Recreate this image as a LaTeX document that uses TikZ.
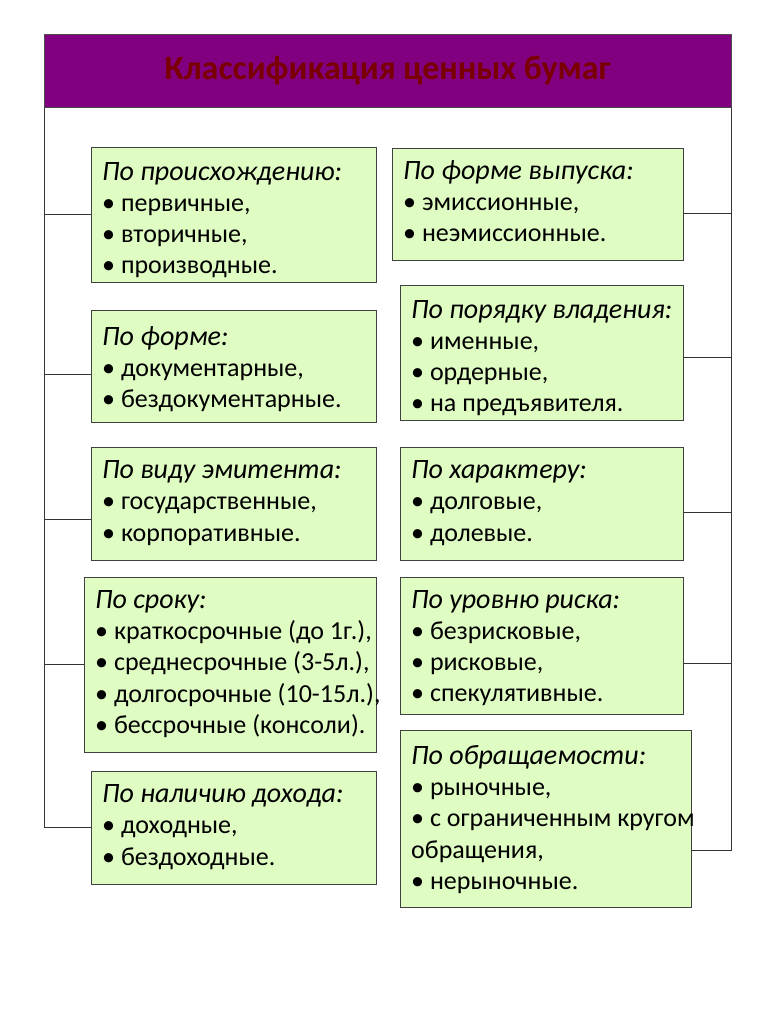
\documentclass[tikz,border=0pt]{standalone}
\usepackage{fontspec}
\setmainfont{Carlito}
\definecolor{boxgreen}{HTML}{DFFCC2}
\definecolor{headpurple}{HTML}{800080}
\definecolor{headred}{HTML}{7A0000}
\newcommand{\klasshead}[1]{{\fontsize{28}{31.3}\selectfont\itshape #1}}
\newcommand{\klassbody}[3][0pt]{\makebox[#2][l]{\raisebox{-#1}[\height][\depth]{\begin{tabular}{@{}l@{}}#3\end{tabular}}}}
\begin{document}
\begin{tikzpicture}[x=1pt,y=-1pt,
    klass/.style={draw=black!75,fill=boxgreen,anchor=north west,
      inner xsep=11pt,inner ysep=0pt,minimum height=#1,
      font=\fontsize{26}{31.3}\selectfont},
    link/.style={draw=black!80,line width=0.8pt}]
  \useasboundingbox (0,0) rectangle (767,1024);
  \node [draw=black!70,fill=headpurple,anchor=north west,minimum width=687pt,minimum height=73pt,
    text=headred,font=\fontsize{34}{38}\selectfont\bfseries] (title) at (44,34) {Классификация ценных бумаг};
  % left column
  \node [klass=135pt] (origin) at (91,147) {\klassbody[6pt]{263pt}{\klasshead{По происхождению:}\\• первичные,\\• вторичные,\\• производные.}};
  \node [klass=112pt] (forma) at (91,310) {\klassbody[4pt]{263pt}{\klasshead{По форме:}\\• документарные,\\• бездокументарные.}};
  \node [klass=113pt] (emitent) at (91,447) {\klassbody{263pt}{\klasshead{По виду эмитента:}\\• государственные,\\• корпоративные.}};
  \node [klass=175pt] (srok) at (84,577) {\klassbody{270pt}{\klasshead{По сроку:}\\• краткосрочные (до 1г.),\\• среднесрочные (3-5л.),\\• долгосрочные (10-15л.),\\• бессрочные (консоли).}};
  \node [klass=113pt] (dohod) at (91,771) {\klassbody{263pt}{\klasshead{По наличию дохода:}\\• доходные,\\• бездоходные.}};
  % right column
  \node [klass=112pt] (vypusk) at (392,148) {\klassbody{269pt}{\klasshead{По форме выпуска:}\\• эмиссионные,\\• неэмиссионные.}};
  \node [klass=135pt] (vladenie) at (400,285) {\klassbody[6pt]{261pt}{\klasshead{По порядку владения:}\\• именные,\\• ордерные,\\• на предъявителя.}};
  \node [klass=113pt] (harakter) at (400,447) {\klassbody{261pt}{\klasshead{По характеру:}\\• долговые,\\• долевые.}};
  \node [klass=137pt] (risk) at (400,577) {\klassbody[3pt]{261pt}{\klasshead{По уровню риска:}\\• безрисковые,\\• рисковые,\\• спекулятивные.}};
  \node [klass=177pt] (obrasch) at (400,730) {\klassbody[2pt]{269pt}{\klasshead{По обращаемости:}\\• рыночные,\\• с ограниченным кругом\\обращения,\\• нерыночные.}};
  % connectors
  \draw [link] (origin.west) -| (title.south west);
  \draw [link] ([yshift=-8pt]forma.west) -| (title.south west);
  \draw [link] ([yshift=-16pt]emitent.west) -| (title.south west);
  \draw [link] (srok.west) -| (title.south west);
  \draw [link] (dohod.west) -| (title.south west);
  \draw [link] ([yshift=-9pt]vypusk.east) -| (title.south east);
  \draw [link] ([yshift=-5pt]vladenie.east) -| (title.south east);
  \draw [link] ([yshift=-9pt]harakter.east) -| (title.south east);
  \draw [link] ([yshift=-18pt]risk.east) -| (title.south east);
  \draw [link] ([yshift=-32pt]obrasch.east) -| (title.south east);
\end{tikzpicture}
\end{document}
